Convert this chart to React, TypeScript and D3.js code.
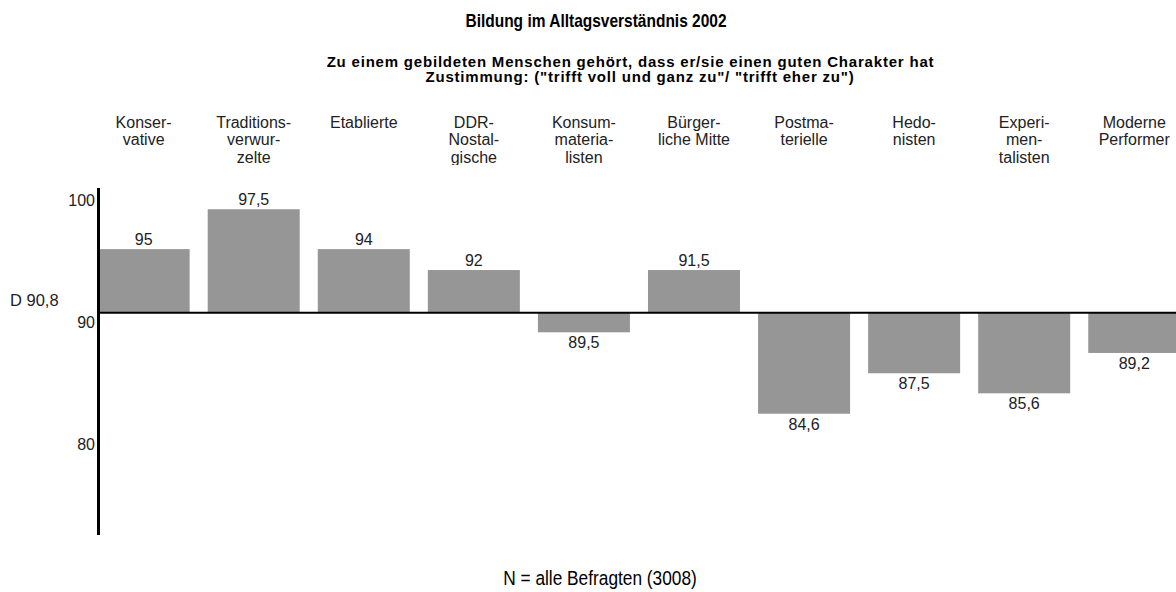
import * as d3 from "d3";

const categories = [
  ["Konser-", "vative"],
  ["Traditions-", "verwur-", "zelte"],
  ["Etablierte"],
  ["DDR-", "Nostal-", "gische"],
  ["Konsum-", "materia-", "listen"],
  ["Bürger-", "liche Mitte"],
  ["Postma-", "terielle"],
  ["Hedo-", "nisten"],
  ["Experi-", "men-", "talisten"],
  ["Moderne", "Performer"],
];

// bar ends as they sit on the value axis in the picture
const barValues = [96.0, 99.26, 96.0, 94.29, 89.2, 94.29, 82.54, 85.85, 84.21, 87.51];
// the numbers printed at the bars
const valueLabels = ["95", "97,5", "94", "92", "89,5", "91,5", "84,6", "87,5", "85,6", "89,2"];

const yTicks = [100, 90, 80];
const mean = 90.8;
const meanLabel = "D 90,8";

const title = "Bildung im Alltagsverständnis 2002";
const subtitle = [
  "Zu einem gebildeten Menschen gehört, dass er/sie einen guten Charakter hat",
  'Zustimmung: ("trifft voll und ganz zu"/ "trifft eher zu")',
];
const footnote = "N = alle Befragten (3008)";

const W = 1176;
const H = 592;
const font = "'Liberation Sans', Arial, sans-serif";

export default function App() {
  const x = d3
    .scaleBand<number>()
    .domain(d3.range(categories.length))
    .range([88.6, 1189.3])
    .paddingInner(0.164)
    .paddingOuter(0.082);

  const y = d3.scaleLinear().domain([80, 100]).range([444.8, 200.2]);
  const y0 = y(mean);
  const bw = x.bandwidth();
  const cx = (i: number) => (x(i) as number) + bw / 2;

  return (
    <svg
      width={W}
      height={H}
      style={{ position: "absolute", left: 0, top: 0, display: "block", background: "#fff" }}
      fontFamily={font}
    >
      <defs>
        <clipPath id="catClip">
          <rect x={0} y={100} width={W} height={65} />
        </clipPath>
      </defs>

      <text
        transform="translate(596,27) scale(1,1.2)"
        textAnchor="middle"
        fontWeight="bold"
        fontSize={15.5}
        fill="#000"
      >
        {title}
      </text>
      {subtitle.map((s, i) => (
        <text
          key={i}
          x={i === 0 ? 630.5 : 640}
          y={66.5 + i * 15.5}
          textAnchor="middle"
          fontWeight="bold"
          fontSize={15}
          letterSpacing={0.8}
          fill="#000"
        >
          {s}
        </text>
      ))}

      {/* category headers */}
      <g clipPath="url(#catClip)">
        {categories.map((lines, i) => (
          <text key={i} x={cx(i)} y={127.5} textAnchor="middle" fontSize={16} fill="#222">
            {lines.map((l, j) => (
              <tspan key={j} x={cx(i)} dy={j === 0 ? 0 : 17.5}>
                {l}
              </tspan>
            ))}
          </text>
        ))}
      </g>

      {/* bars */}
      {barValues.map((v, i) => (
        <rect
          key={i}
          x={x(i)}
          y={Math.min(y(v), y0)}
          width={bw}
          height={Math.abs(y(v) - y0)}
          fill="#969696"
        />
      ))}

      {/* value labels */}
      {barValues.map((v, i) => (
        <text
          key={i}
          x={cx(i)}
          y={v >= mean ? y(v) - 4 : y(v) + 16}
          textAnchor="middle"
          fontSize={16}
          fill="#222"
        >
          {valueLabels[i]}
        </text>
      ))}

      {/* mean line */}
      <line x1={98} x2={W} y1={y0} y2={y0} stroke="#000" strokeWidth={2} />
      <text x={10} y={306} fontSize={16.5} fill="#222">
        {meanLabel}
      </text>

      {/* y axis */}
      <line x1={98.5} x2={98.5} y1={188} y2={535} stroke="#000" strokeWidth={3} />
      {yTicks.map((t) => (
        <text key={t} x={95} y={y(t) + 5.5} textAnchor="end" fontSize={16} fill="#222">
          {t}
        </text>
      ))}

      <text
        transform="translate(600,585) scale(1,1.15)"
        textAnchor="middle"
        fontSize={17.3}
        fill="#000"
      >
        {footnote}
      </text>
    </svg>
  );
}
